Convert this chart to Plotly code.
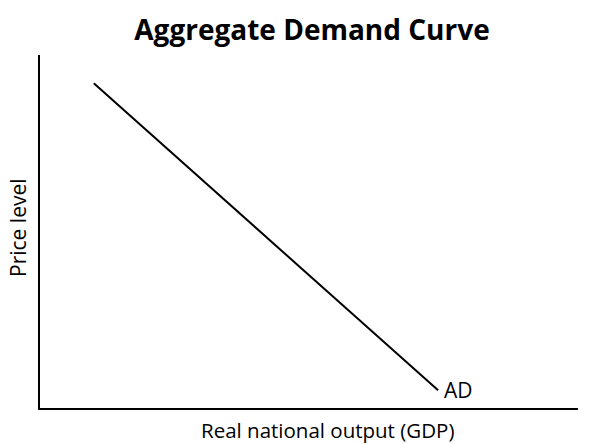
import plotly.graph_objects as go

# Data
ad_x = [1.0, 7.4]
ad_y = [9.2, 0.5]
curve_label = "AD"
title_text = "Aggregate Demand Curve"
x_title = "Real national output (GDP)"
y_title = "Price level"

fig = go.Figure()
fig.add_trace(go.Scatter(x=ad_x, y=ad_y, mode="lines",
                         line=dict(color="black", width=2), showlegend=False,
                         hoverinfo="skip"))
fig.add_annotation(x=ad_x[-1], y=ad_y[-1], text=curve_label, showarrow=False,
                   xanchor="left", yanchor="middle", xshift=4,
                   font=dict(family="Open Sans", size=21, color="black"))
fig.add_annotation(xref="paper", yref="paper", x=0.535, y=0, yshift=-22,
                   text=x_title, showarrow=False, xanchor="center", yanchor="middle",
                   borderpad=0,
                   font=dict(family="Open Sans", size=20.5, color="black"))
fig.add_annotation(xref="paper", yref="paper", x=0, y=0.51, xshift=-22,
                   text=y_title, showarrow=False, textangle=-90,
                   xanchor="center", yanchor="middle",
                   font=dict(family="Open Sans", size=21, color="black"))

fig.update_layout(
    width=592, height=444,
    margin=dict(l=40, r=14, t=55, b=36),
    paper_bgcolor="white", plot_bgcolor="white",
    title=dict(text="<b>" + title_text + "</b>", x=0.527, xanchor="center",
               y=0.932, yanchor="middle", xref="container", yref="container",
               font=dict(family="Open Sans", size=28, color="black")),
    xaxis=dict(range=[0, 10], showline=True, linecolor="black", linewidth=2,
               showgrid=False, zeroline=False, showticklabels=False, ticks="",
               automargin=False),
    yaxis=dict(range=[0, 10], showline=True, linecolor="black", linewidth=2,
               showgrid=False, zeroline=False, showticklabels=False, ticks="",
               automargin=False),
)

fig.write_html("out.html", config={"displayModeBar": False},
               post_script="document.body.style.margin='0px';document.body.style.overflow='hidden';")
